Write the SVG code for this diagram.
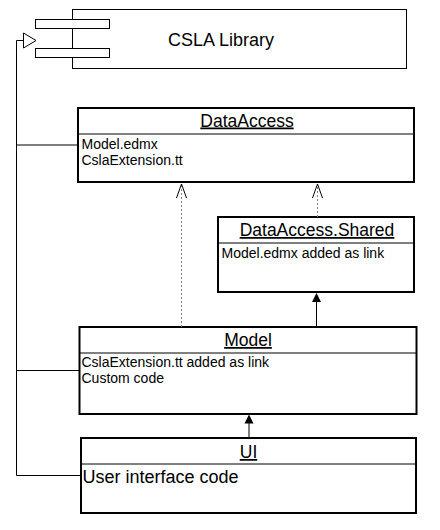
<svg xmlns="http://www.w3.org/2000/svg" width="440" height="530" viewBox="0 0 440 530">
<defs>
<style>
.box{fill:#fff;stroke:#000;stroke-width:2}
.thin{fill:#fff;stroke:#000;stroke-width:1}
.t{font-family:"Liberation Sans",Arial,sans-serif;fill:#000}
.title{font-size:17.5px;text-anchor:middle;text-decoration:underline}
.attr{font-size:14px}
.line{fill:none;stroke:#000;stroke-width:1}
.dash{fill:none;stroke:#808080;stroke-width:1;stroke-dasharray:2,2}
.open{fill:none;stroke:#000;stroke-width:1}
</style>
</defs>
<rect width="440" height="530" fill="#fff"/>
<g id="csla">
<rect class="thin" x="72.5" y="9.5" width="334" height="59"/>
<rect class="thin" x="35.5" y="19.5" width="74" height="9"/>
<rect class="thin" x="35.5" y="48.5" width="74" height="9"/>
<text class="t" x="221" y="45.5" font-size="18" text-anchor="middle">CSLA Library</text>
</g>
<g id="dataaccess">
<rect class="box" x="78" y="108" width="336" height="74"/>
<line class="line" stroke-width="2" x1="78" y1="134" x2="414" y2="134"/>
<text class="t title" x="247" y="126.5">DataAccess</text>
<text class="t attr" x="81.5" y="149">Model.edmx</text>
<text class="t attr" x="81.5" y="165">CslaExtension.tt</text>
</g>
<g id="shared">
<rect class="box" x="218" y="217" width="196" height="75"/>
<line class="line" stroke-width="2" x1="218" y1="243" x2="414" y2="243"/>
<text class="t title" x="317" y="236">DataAccess.Shared</text>
<text class="t attr" x="221.5" y="258">Model.edmx added as link</text>
</g>
<g id="model">
<rect class="box" x="79.5" y="327" width="337" height="87"/>
<line class="line" stroke-width="2" x1="79.5" y1="353" x2="416.5" y2="353"/>
<text class="t title" x="248" y="346">Model</text>
<text class="t attr" x="81.5" y="366.5">CslaExtension.tt added as link</text>
<text class="t attr" x="81.5" y="382.5">Custom code</text>
</g>
<g id="ui">
<rect class="box" x="81" y="438" width="335" height="75"/>
<line class="line" stroke-width="2" x1="81" y1="464" x2="416" y2="464"/>
<text class="t title" x="248.5" y="458">UI</text>
<text class="t" x="82.5" y="483" font-size="18">User interface code</text>
</g>
<g id="connectors">
<polyline class="line" points="78,145 16.5,145 16.5,40.5 23.5,40.5"/>
<polygon points="23.5,33 36,40.5 23.5,48" fill="#fff" stroke="#000" stroke-width="1"/>
<polyline class="line" points="79.5,370.5 16.5,370.5"/>
<polyline class="line" points="81,475.5 16.5,475.5 16.5,145"/>
<line class="dash" x1="181.5" y1="327" x2="181.5" y2="184"/>
<path class="open" d="M176.5,198 L181.5,184 L186.5,198"/>
<line class="dash" x1="317.5" y1="217" x2="317.5" y2="184"/>
<path class="open" d="M312.5,198 L317.5,184 L322.5,198"/>
<line class="line" x1="316.5" y1="327" x2="316.5" y2="301"/>
<polygon points="316.5,293 312,302 321,302" fill="#000"/>
<line class="line" x1="249" y1="438" x2="249" y2="423"/>
<polygon points="249,414.5 244.5,423.5 253.5,423.5" fill="#000"/>
</g>
</svg>
